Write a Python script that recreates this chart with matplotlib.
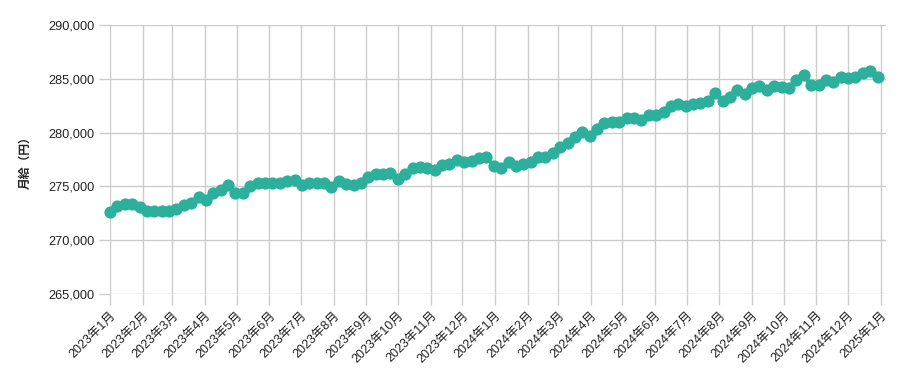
import pandas as pd
import matplotlib
matplotlib.use('Agg')
import matplotlib.pyplot as plt
from matplotlib.ticker import FuncFormatter

plt.rcParams['font.family'] = ['Liberation Sans', 'Noto Sans CJK JP', 'DejaVu Sans']

# weekly salary values (yen), starting 2023-01-01
start_date = '2023-01-01'
salary = [
    272600, 273150, 273370, 273320, 273040, 272760, 272740, 272670, 272760, 272900,
    273270, 273460, 274010, 273780, 274390, 274710, 275130, 274390, 274390, 275040,
    275340, 275290, 275290, 275290, 275500, 275600, 275130, 275270, 275290, 275290,
    274940, 275530, 275180, 275130, 275320, 275830, 276150, 276150, 276200, 275730,
    276150, 276750, 276830, 276710, 276550, 276990, 277080, 277430, 277300, 277390,
    277610, 277760, 276900, 276710, 277270, 276850, 277080, 277300, 277760, 277760,
    278060, 278660, 279010, 279590, 280080, 279680, 280380, 280860, 281010, 281010,
    281330, 281330, 281170, 281640, 281640, 281940, 282430, 282660, 282430, 282660,
    282720, 282940, 283650, 282960, 283340, 284000, 283590, 284100, 284330, 283960,
    284330, 284270, 284120, 284890, 285350, 284420, 284420, 284930, 284730, 285190,
    285050, 285140, 285510, 285750, 285190,
]
dates = pd.date_range(start_date, periods=len(salary), freq='7D')

month_ticks = pd.date_range('2023-01-01', '2025-01-01', freq='MS')
month_labels = [f'{d.year}年{d.month}月' for d in month_ticks]
y_ticks = [265000, 270000, 275000, 280000, 285000, 290000]

color = '#2cb09c'
text_color = '#222222'

fig = plt.figure(figsize=(9.05, 3.71), dpi=100)
ax = fig.add_axes([110 / 905, 1 - 294 / 371, 776 / 905, 269 / 371])

ax.plot(dates, salary, color=color, linewidth=3, marker='o', markersize=8.8,
        markeredgewidth=0, clip_on=False, zorder=3)

ax.set_xlim(pd.Timestamp('2023-01-01'), pd.Timestamp('2025-01-06'))
ax.set_ylim(265000, 290000)
ax.set_xticks(month_ticks)
ax.set_xticklabels(month_labels, rotation=45, ha='right', rotation_mode='anchor',
                   fontsize=9, color=text_color)
ax.set_yticks(y_ticks)
ax.yaxis.set_major_formatter(FuncFormatter(lambda v, p: f'{int(v):,}'))
ax.tick_params(axis='y', labelsize=9.2, labelcolor=text_color)
ax.tick_params(axis='both', length=8, width=1, color='#cccccc', pad=3)

ax.grid(True, color='#cccccc', linewidth=1)
ax.set_axisbelow(True)
for s in ax.spines.values():
    s.set_visible(False)

ax.set_ylabel('月給（円）', fontsize=8.5, fontweight='bold', labelpad=12,
              color=text_color, family=['Noto Sans CJK JP'])

fig.savefig('out.png', dpi=100)
